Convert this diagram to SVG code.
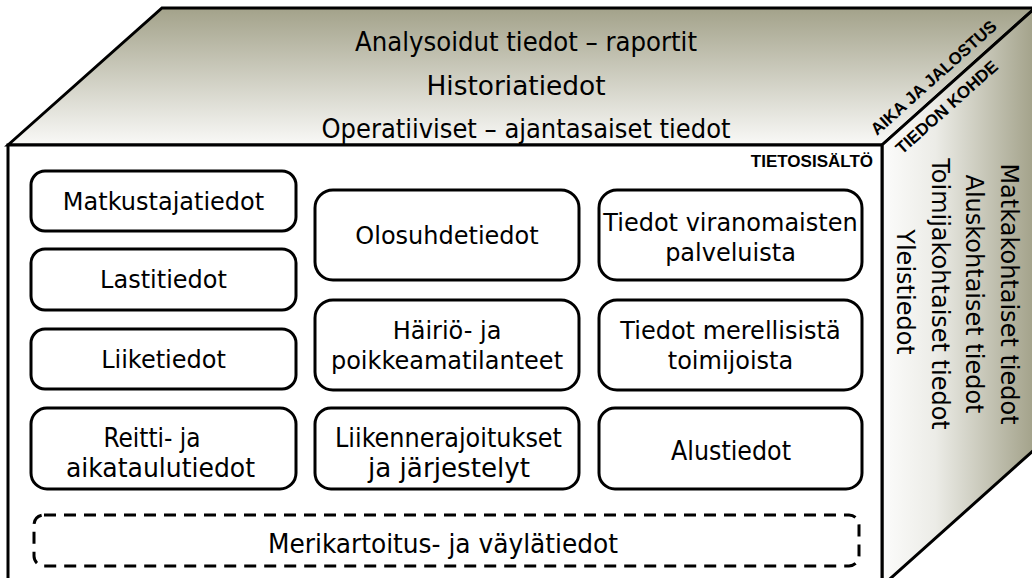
<svg xmlns="http://www.w3.org/2000/svg" width="1032" height="578" viewBox="0 0 1032 578">
<defs>
<linearGradient id="gTop" x1="0" y1="0" x2="0" y2="1">
<stop offset="0" stop-color="#a3a28a"/>
<stop offset="1" stop-color="#f9f9f7"/>
</linearGradient>
<linearGradient id="gRight" x1="0" y1="0" x2="1" y2="0">
<stop offset="0" stop-color="#fcfcfb"/>
<stop offset="0.35" stop-color="#ecece7"/>
<stop offset="1" stop-color="#a3a28a"/>
</linearGradient>
</defs>
<style>
.face{stroke:#000;stroke-width:3;stroke-linejoin:miter}
.box{fill:#fff;stroke:#000;stroke-width:3}
.dash{fill:#fff;stroke:#000;stroke-width:3;stroke-dasharray:12 8}
.t{font-family:"DejaVu Sans",Verdana,sans-serif;font-size:24px;fill:#000;text-anchor:middle}
.c{font-family:"DejaVu Sans Condensed","DejaVu Sans",sans-serif;font-size:26px;fill:#000;text-anchor:middle}
.lab{font-family:"Liberation Sans",Arial,sans-serif;font-weight:bold;font-size:17px;fill:#000}
</style>
<g id="top-face">
<polygon class="face" fill="url(#gTop)" points="8,145 162,8 1034,8 1034,9 882,145"/>
<text class="c" x="526" y="51" textLength="342" lengthAdjust="spacingAndGlyphs">Analysoidut tiedot – raportit</text>
<text class="c" x="516" y="95" textLength="179" lengthAdjust="spacingAndGlyphs">Historiatiedot</text>
<text class="c" x="526" y="138" textLength="409" lengthAdjust="spacingAndGlyphs">Operatiiviset – ajantasaiset tiedot</text>
</g>
<g id="right-face">
<polygon class="face" fill="url(#gRight)" points="882,145 1034,9 1034,450 882,586"/>
<text class="t" transform="translate(1001,294) rotate(90)">Matkakohtaiset tiedot</text>
<text class="t" transform="translate(966,294) rotate(90)">Aluskohtaiset tiedot</text>
<text class="t" transform="translate(932,294) rotate(90)">Toimijakohtaiset tiedot</text>
<text class="t" transform="translate(897,292) rotate(90)">Yleistiedot</text>
</g>
<g id="axis-labels">
<text class="lab" transform="translate(877,136) rotate(-41.8)">AIKA JA JALOSTUS</text>
<text class="lab" transform="translate(902,155) rotate(-41.8)">TIEDON KOHDE</text>
</g>
<g id="front-face">
<rect class="face" fill="#fff" x="8" y="145" width="874" height="445"/>
<text class="lab" x="873" y="167" text-anchor="end">TIETOSISÄLTÖ</text>
</g>
<g id="matkustajatiedot"><rect class="box" x="31" y="171" width="265" height="60" rx="14"/><text class="t" x="163.5" y="210">Matkustajatiedot</text></g>
<g id="lastitiedot"><rect class="box" x="31" y="249" width="265" height="61" rx="14"/><text class="t" x="163.5" y="288">Lastitiedot</text></g>
<g id="liiketiedot"><rect class="box" x="31" y="329" width="265" height="60" rx="14"/><text class="t" x="163.5" y="368">Liiketiedot</text></g>
<g id="reitti"><rect class="box" x="31" y="408" width="265" height="81" rx="16"/><text class="c" x="152" y="447" textLength="97" lengthAdjust="spacingAndGlyphs">Reitti- ja</text><text class="c" x="160.5" y="477" textLength="189" lengthAdjust="spacingAndGlyphs">aikataulutiedot</text></g>
<g id="olosuhdetiedot"><rect class="box" x="315" y="190" width="264" height="90" rx="18"/><text class="t" x="447" y="244">Olosuhdetiedot</text></g>
<g id="hairio"><rect class="box" x="315" y="300" width="264" height="90" rx="18"/><text class="t" x="447" y="339">Häiriö- ja</text><text class="t" x="447" y="369">poikkeamatilanteet</text></g>
<g id="liikennerajoitukset"><rect class="box" x="315" y="408" width="264" height="81" rx="16"/><text class="c" x="448.5" y="447" textLength="227" lengthAdjust="spacingAndGlyphs">Liikennerajoitukset</text><text class="c" x="449" y="477" textLength="162" lengthAdjust="spacingAndGlyphs">ja järjestelyt</text></g>
<g id="viranomaiset"><rect class="box" x="599" y="190" width="263" height="90" rx="18"/><text class="t" x="730.5" y="231">Tiedot viranomaisten</text><text class="t" x="730.5" y="261">palveluista</text></g>
<g id="toimijat"><rect class="box" x="599" y="300" width="263" height="90" rx="18"/><text class="t" x="730.5" y="339">Tiedot merellisistä</text><text class="t" x="730.5" y="369">toimijoista</text></g>
<g id="alustiedot"><rect class="box" x="599" y="408" width="263" height="81" rx="16"/><text class="c" x="731" y="460" textLength="120" lengthAdjust="spacingAndGlyphs">Alustiedot</text></g>
<g id="merikartoitus"><rect class="dash" x="34" y="515" width="825" height="51" rx="10"/><text class="c" x="443" y="553" textLength="350" lengthAdjust="spacingAndGlyphs">Merikartoitus- ja väylätiedot</text></g>
</svg>
